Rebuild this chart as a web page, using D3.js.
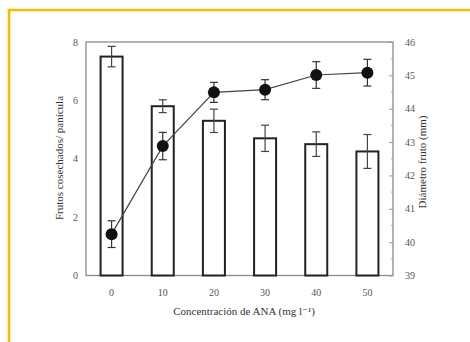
<!DOCTYPE html>
<html>
<head>
<meta charset="utf-8">
<script src="https://cdn.jsdelivr.net/npm/d3@7"></script>
<style>
  html, body { margin: 0; padding: 0; background: #fff; }
  svg { display: block; }
  text { font-family: "Liberation Serif", "DejaVu Serif", serif; fill: #333; }
</style>
</head>
<body>
<svg id="chart" width="470" height="342"></svg>
<script>
// ANA concentration levels (mg l-1)
const categories = ["0", "10", "20", "30", "40", "50"];
// Harvested fruits per panicle (bars, left axis) and their error
const fruits = [7.5, 5.8, 5.3, 4.7, 4.5, 4.25];
const fruitsErr = [0.35, 0.22, 0.4, 0.45, 0.42, 0.58];
// Fruit diameter in mm (line, right axis) and its error
const diameter = [40.24, 42.88, 44.49, 44.57, 45.01, 45.08];
const diameterErr = [0.4, 0.41, 0.3, 0.3, 0.4, 0.4];
// Axis ticks
const leftTicks = [0, 2, 4, 6, 8];
const rightTicks = [39, 40, 41, 42, 43, 44, 45, 46];

const svg = d3.select("#chart");
const m = { left: 86, right: 393, top: 42, bottom: 275.5 };

// Frame around the sheet
svg.append("path")
  .attr("d", "M9,342 V10 H470")
  .attr("fill", "none")
  .attr("stroke", "#f3be00")
  .attr("stroke-width", 2.6);

const x = d3.scaleBand().domain(categories)
  .range([m.left, m.right]).paddingInner(0.57).paddingOuter(0.285);
const yL = d3.scaleLinear().domain([0, 8]).range([m.bottom, m.top]);
const yR = d3.scaleLinear().domain([39, 46]).range([m.bottom, m.top]);

// Plot box
svg.append("rect")
  .attr("x", m.left).attr("y", m.top)
  .attr("width", m.right - m.left).attr("height", m.bottom - m.top)
  .attr("fill", "none").attr("stroke", "#8a8a8a").attr("stroke-width", 1.3);

// Left axis
const axL = svg.append("g").attr("transform", `translate(${m.left},0)`)
  .call(d3.axisLeft(yL).tickValues(leftTicks).tickSize(0).tickPadding(8));
axL.select(".domain").remove();
axL.selectAll("text").attr("font-size", 10).style("fill", "#555");

// Right axis with inward ticks
const axR = svg.append("g").attr("transform", `translate(${m.right},0)`)
  .call(d3.axisRight(yR).tickValues(rightTicks).tickSize(-4).tickPadding(12)
    .tickFormat(d3.format("d")));
axR.select(".domain").remove();
axR.selectAll("line").attr("stroke", "#999");
axR.selectAll("text").attr("font-size", 10).style("fill", "#555");
// minor ticks at half units
svg.append("g").selectAll("line")
  .data(d3.range(39.5, 46, 1))
  .join("line")
  .attr("x1", m.right - 2).attr("x2", m.right)
  .attr("y1", d => yR(d)).attr("y2", d => yR(d))
  .attr("stroke", "#aaa");

// X axis labels
const axX = svg.append("g").attr("transform", `translate(0,${m.bottom})`)
  .call(d3.axisBottom(x).tickSize(0).tickPadding(13));
axX.select(".domain").remove();
axX.selectAll("text").attr("font-size", 10).style("fill", "#555");

// Bars
svg.append("g").selectAll("rect")
  .data(categories)
  .join("rect")
  .attr("x", d => x(d)).attr("width", x.bandwidth())
  .attr("y", (d, i) => yL(fruits[i]))
  .attr("height", (d, i) => yL(0) - yL(fruits[i]))
  .attr("fill", "#fff").attr("stroke", "#222").attr("stroke-width", 2);

// Error bars for the bars
const cx = d => x(d) + x.bandwidth() / 2;
const eb = svg.append("g").attr("stroke", "#444").attr("stroke-width", 1.2);
categories.forEach((c, i) => {
  const hi = yL(fruits[i] + fruitsErr[i]), lo = yL(fruits[i] - fruitsErr[i]);
  eb.append("line").attr("x1", cx(c)).attr("x2", cx(c)).attr("y1", hi).attr("y2", lo);
  eb.append("line").attr("x1", cx(c) - 4).attr("x2", cx(c) + 4).attr("y1", hi).attr("y2", hi);
  eb.append("line").attr("x1", cx(c) - 4).attr("x2", cx(c) + 4).attr("y1", lo).attr("y2", lo);
});

// Diameter line
const line = d3.line().x((d, i) => cx(categories[i])).y(d => yR(d));
svg.append("path").datum(diameter)
  .attr("d", line).attr("fill", "none")
  .attr("stroke", "#444").attr("stroke-width", 1.2);

const el = svg.append("g").attr("stroke", "#333").attr("stroke-width", 1.2);
categories.forEach((c, i) => {
  const hi = yR(diameter[i] + diameterErr[i]), lo = yR(diameter[i] - diameterErr[i]);
  el.append("line").attr("x1", cx(c)).attr("x2", cx(c)).attr("y1", hi).attr("y2", lo);
  el.append("line").attr("x1", cx(c) - 4).attr("x2", cx(c) + 4).attr("y1", hi).attr("y2", hi);
  el.append("line").attr("x1", cx(c) - 4).attr("x2", cx(c) + 4).attr("y1", lo).attr("y2", lo);
});

svg.append("g").selectAll("circle")
  .data(diameter)
  .join("circle")
  .attr("cx", (d, i) => cx(categories[i])).attr("cy", d => yR(d))
  .attr("r", 6).attr("fill", "#111");

// Axis titles
svg.append("text")
  .attr("transform", `translate(63,158) rotate(-90)`)
  .attr("text-anchor", "middle").attr("font-size", 11)
  .text("Frutos cosechados/ panícula");
svg.append("text")
  .attr("transform", `translate(426,162) rotate(-90)`)
  .attr("text-anchor", "middle").attr("font-size", 11)
  .text("Diámetro fruto (mm)");
svg.append("text")
  .attr("x", 244).attr("y", 315)
  .attr("text-anchor", "middle").attr("font-size", 11)
  .text("Concentración de ANA (mg l⁻¹)");
</script>
</body>
</html>
